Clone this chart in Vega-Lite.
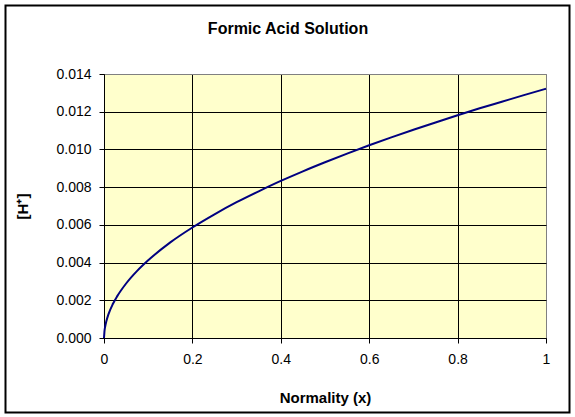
{
  "$schema": "https://vega.github.io/schema/vega-lite/v6.json",
  "autosize": {"type": "none"},
  "width": 442,
  "height": 264,
  "padding": {"left": 104, "top": 74, "right": 29, "bottom": 79},
  "background": "white",
  "title": {
    "text": "Formic Acid Solution",
    "font": "Liberation Sans",
    "fontSize": 16,
    "fontWeight": "bold",
    "color": "black",
    "anchor": "middle",
    "dx": -37,
    "offset": -33
  },
  "config": {
    "view": {"fill": "#FFFFCC", "stroke": "#808080", "strokeWidth": 1},
    "axis": {
      "labelFont": "Liberation Sans",
      "labelFontSize": 14,
      "labelColor": "black",
      "labelOverlap": false,
      "titleFont": "Liberation Sans",
      "titleFontSize": 15,
      "titleFontWeight": "bold",
      "titleColor": "black",
      "domainColor": "black",
      "domainWidth": 1,
      "tickColor": "black",
      "tickSize": 5,
      "tickWidth": 1,
      "grid": true,
      "gridWidth": 1,
      "gridOpacity": 1
    }
  },
  "resolve": {"axis": {"x": "independent", "y": "independent"}},
  "datasets": {
    "curve": [
      {"normality": 0, "h": 0},
      {"normality": 0.001, "h": 0.00034},
      {"normality": 0.003, "h": 0.00065},
      {"normality": 0.005, "h": 0.00086},
      {"normality": 0.01, "h": 0.00125},
      {"normality": 0.02, "h": 0.0018},
      {"normality": 0.03, "h": 0.00222},
      {"normality": 0.05, "h": 0.00289},
      {"normality": 0.075, "h": 0.00356},
      {"normality": 0.1, "h": 0.00412},
      {"normality": 0.15, "h": 0.00507},
      {"normality": 0.2, "h": 0.00586},
      {"normality": 0.25, "h": 0.00656},
      {"normality": 0.3, "h": 0.0072},
      {"normality": 0.35, "h": 0.00778},
      {"normality": 0.4, "h": 0.00833},
      {"normality": 0.45, "h": 0.00884},
      {"normality": 0.5, "h": 0.00932},
      {"normality": 0.55, "h": 0.00978},
      {"normality": 0.6, "h": 0.01022},
      {"normality": 0.65, "h": 0.01064},
      {"normality": 0.7, "h": 0.01104},
      {"normality": 0.75, "h": 0.01143},
      {"normality": 0.8, "h": 0.01181},
      {"normality": 0.85, "h": 0.01218},
      {"normality": 0.9, "h": 0.01253},
      {"normality": 0.95, "h": 0.01288},
      {"normality": 1.0, "h": 0.01322}
    ]
  },
  "layer": [
    {
      "data": {"name": "curve"},
      "mark": {"type": "line", "color": "#000080", "strokeWidth": 2, "interpolate": "monotone"},
      "encoding": {
        "x": {
          "field": "normality",
          "type": "quantitative",
          "scale": {"domain": [0, 1], "nice": false},
          "axis": {
            "title": "Normality (x)",
            "values": [0, 0.2, 0.4, 0.6, 0.8, 1],
            "format": "~g",
            "labelPadding": 9,
            "titlePadding": 24,
            "labelFlush": false,
            "gridColor": {"condition": {"test": "datum.value >= 0.999", "value": "#808080"}, "value": "black"}
          }
        },
        "y": {
          "field": "h",
          "type": "quantitative",
          "scale": {"domain": [0, 0.014], "nice": false},
          "axis": {
            "title": "[H⁺]",
            "values": [0, 0.002, 0.004, 0.006, 0.008, 0.01, 0.012, 0.014],
            "format": ".3f",
            "labelPadding": 8,
            "titlePadding": 25,
            "gridColor": {"condition": {"test": "datum.value >= 0.0139", "value": "#808080"}, "value": "black"}
          }
        }
      }
    },
    {
      "data": {"values": [{}]},
      "mark": {"type": "rect", "fill": null, "stroke": "black", "strokeWidth": 2, "clip": false},
      "encoding": {
        "x": {"datum": -0.22285, "type": "quantitative", "axis": null},
        "x2": {"datum": 1.05317},
        "y": {"datum": 0.0176326, "type": "quantitative", "axis": null},
        "y2": {"datum": -0.003951}
      }
    }
  ]
}
